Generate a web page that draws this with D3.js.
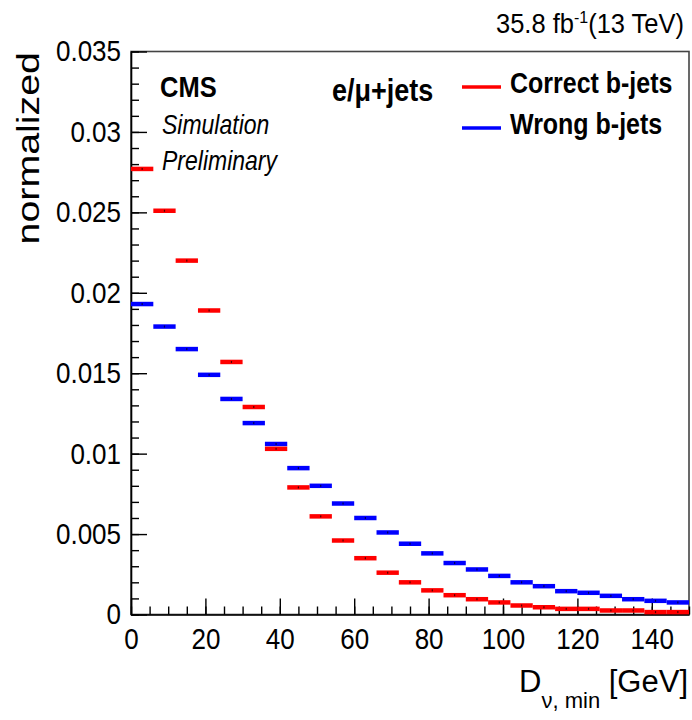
<!DOCTYPE html>
<html>
<head>
<meta charset="utf-8">
<script src="https://cdn.jsdelivr.net/npm/d3@7"></script>
<style>
  html, body { margin: 0; padding: 0; background: #fff; }
  svg { display: block; font-family: "Liberation Sans", Arial, Helvetica, sans-serif; }
</style>
</head>
<body>
<svg id="chart" width="692" height="720"></svg>
<script>
// DATA

// lower edges of the 6 GeV bins
const binLow = [0, 6, 12, 18, 24, 30, 36, 42, 48, 54, 60, 66, 72, 78, 84, 90, 96, 102, 108, 114, 120, 126, 132, 138, 144];
const binWidth = 6;

const correctB = [0.0277, 0.0251, 0.0220, 0.0189, 0.0157, 0.0129, 0.0103, 0.0079, 0.0061, 0.0046,
                  0.0035, 0.0026, 0.0020, 0.0015, 0.0012, 0.00095, 0.00075, 0.00056, 0.00045, 0.00035,
                  0.00035, 0.00025, 0.00025, 0.00015, 0.00015];
const wrongB   = [0.0193, 0.0179, 0.0165, 0.0149, 0.0134, 0.0119, 0.0106, 0.0091, 0.0080, 0.0069,
                  0.0060, 0.0051, 0.0044, 0.0038, 0.0032, 0.0028, 0.0024, 0.0020, 0.00176, 0.00145,
                  0.00135, 0.00116, 0.00095, 0.00085, 0.00075];

const xTicks = [0, 20, 40, 60, 80, 100, 120, 140];
const xMinorTicks = d3.range(0, 151, 5);
const yTicks = [0, 0.005, 0.01, 0.015, 0.02, 0.025, 0.03, 0.035];
const yTickLabels = ["0", "0.005", "0.01", "0.015", "0.02", "0.025", "0.03", "0.035"];
const yMinorTicks = d3.range(0, 0.0355, 0.001);

const series = [
  { name: "Wrong b-jets", values: wrongB, color: "#0000ff" },
  { name: "Correct b-jets", values: correctB, color: "#ff0000" }
];

// LAYOUT

const svg = d3.select("#chart");
const frame = { left: 131, right: 689, top: 51.5, bottom: 614.5 };

const x = d3.scaleLinear().domain([0, 150]).range([frame.left, frame.right]);
const y = d3.scaleLinear().domain([0, 0.035]).range([frame.bottom, frame.top]);

// frame
svg.append("rect")
  .attr("x", frame.left).attr("y", frame.top)
  .attr("width", frame.right - frame.left).attr("height", frame.bottom - frame.top)
  .attr("fill", "none").attr("stroke", "#444").attr("stroke-width", 1.6);

// AXES

const tickFont = 26;
const stretch = 1.13;

// minor ticks
svg.append("g").attr("transform", `translate(0,${frame.bottom})`)
  .call(d3.axisBottom(x).tickValues(xMinorTicks).tickSize(-8).tickFormat(""))
  .call(g => g.select(".domain").remove());
svg.append("g").attr("transform", `translate(${frame.left},0)`)
  .call(d3.axisLeft(y).tickValues(yMinorTicks).tickSize(-8).tickFormat(""))
  .call(g => g.select(".domain").remove());

// major ticks + labels
const xAxis = svg.append("g").attr("transform", `translate(0,${frame.bottom})`)
  .call(d3.axisBottom(x).tickValues(xTicks).tickSize(-16).tickPadding(12).tickSizeOuter(0));
xAxis.selectAll("text")
  .attr("font-size", tickFont).attr("fill", "#000")
  .attr("transform", `scale(1,${stretch})`);

const yAxis = svg.append("g").attr("transform", `translate(${frame.left},0)`)
  .call(d3.axisLeft(y).tickValues(yTicks).tickSize(-16).tickPadding(10).tickSizeOuter(0)
    .tickFormat((d, i) => yTickLabels[i]));
yAxis.selectAll("text")
  .attr("font-size", tickFont).attr("fill", "#000")
  .attr("transform", `scale(1,${stretch})`);

svg.selectAll("g").attr("font-family", null);
svg.selectAll(".tick line").attr("stroke", "#000").attr("stroke-width", 1.4);
svg.selectAll(".domain").attr("stroke", "#000").attr("stroke-width", 1.6);

// HISTOGRAMS

series.forEach(s => {
  const g = svg.append("g");
  g.selectAll("line")
    .data(s.values)
    .join("line")
    .attr("x1", (d, i) => x(binLow[i]))
    .attr("x2", (d, i) => x(binLow[i] + binWidth))
    .attr("y1", d => y(d))
    .attr("y2", d => y(d))
    .attr("stroke", s.color)
    .attr("stroke-width", 4.5);
  // tiny error bars
  g.selectAll("rect")
    .data(s.values)
    .join("rect")
    .attr("x", (d, i) => x(binLow[i] + binWidth / 2) - 0.6)
    .attr("y", d => y(d) - 1)
    .attr("width", 1.2).attr("height", 2)
    .attr("fill", "#000").attr("opacity", 0.7);
});

// TEXT

function label(txt, px, py, size, opts = {}) {
  const t = svg.append("text")
    .attr("transform", `translate(${px},${py}) scale(1,${opts.sy || 1})${opts.rot ? " rotate(" + opts.rot + ")" : ""}`)
    .attr("font-size", size)
    .attr("font-weight", opts.bold ? "bold" : null)
    .attr("font-style", opts.italic ? "italic" : null)
    .attr("text-anchor", opts.anchor || "start")
    .attr("fill", "#000");
  if (txt) t.text(txt);
  return t;
}

// luminosity
const lumi = label(null, 684, 33, 25.5, { anchor: "end", sy: 1.05 });
lumi.append("tspan").text("35.8 fb");
lumi.append("tspan").attr("font-size", 16).attr("dy", -10).text("-1");
lumi.append("tspan").attr("dy", 10).text("(13 TeV)");

label("CMS", 160, 97, 25.5, { bold: true, sy: 1.17 });
label("Simulation", 162, 134, 23, { italic: true, sy: 1.2 });
label("Preliminary", 162, 170, 23, { italic: true, sy: 1.2 });
label("e/\u03bc+jets", 332, 101, 27, { bold: true, sy: 1.17 });

// legend
const legendY = [87, 128];
[series[1], series[0]].forEach((s, i) => {
  svg.append("line")
    .attr("x1", 462).attr("x2", 501)
    .attr("y1", legendY[i]).attr("y2", legendY[i])
    .attr("stroke", s.color).attr("stroke-width", 3.5);
  label(s.name, 510, legendY[i] + 6, 25, { bold: true, sy: 1.17 });
});

// axis titles
label("normalized", 38.5, 52, 32, { anchor: "end", sy: 1.23, rot: -90 });

const xt = label(null, 688, 692, 31, { anchor: "end" });
xt.append("tspan").text("D");
xt.append("tspan").attr("font-size", 22).attr("dy", 16).text("\u03bd, min");
xt.append("tspan").attr("dy", -16).text(" [GeV]");
</script>
</body>
</html>
